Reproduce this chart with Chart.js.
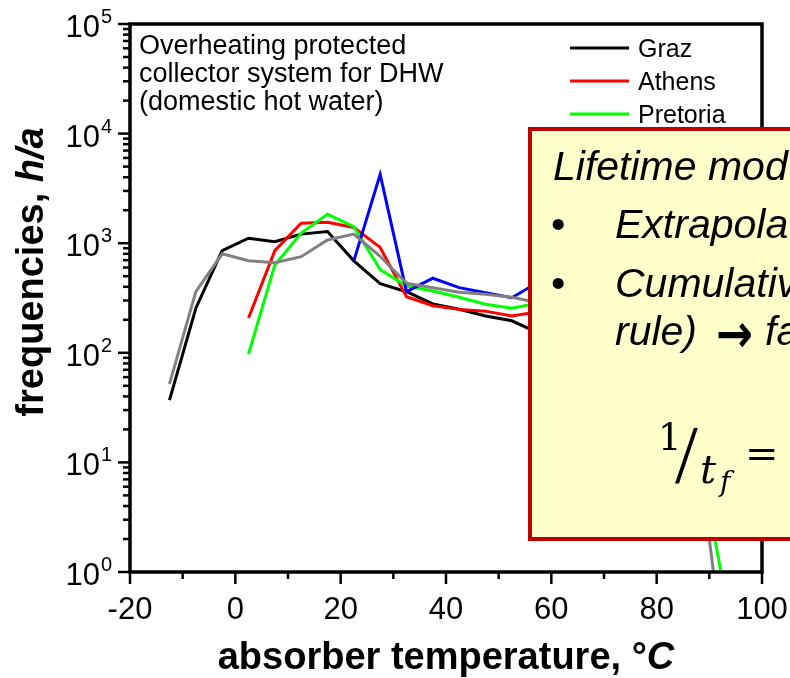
<!DOCTYPE html>
<html><head><meta charset="utf-8">
<script src="https://cdn.jsdelivr.net/npm/chart.js@4.4.1/dist/chart.umd.min.js"></script>
<style>
html,body{margin:0;padding:0;background:#fff;overflow:hidden;width:790px;height:678px;}
canvas{display:block;}
</style></head>
<body>
<canvas id="c" width="790" height="678"></canvas>
<script>
// ---- data ----
const TEMPS     = [-12.5, -7.5, -2.5, 2.5, 7.5, 12.5, 17.5, 22.5, 27.5, 32.5, 37.5, 42.5, 47.5, 52.5, 57.5, 62.5, 67.5, 72.5, 77.5, 82.5, 87.5, 92.5];
const GRAZ      = [37, 255, 855, 1110, 1030, 1210, 1280, 690, 428, 361, 279, 250, 217, 196, 152, 120, 80, 40, 12, 3, null, null];
const ATHENS    = [null, null, null, 208, 855, 1520, 1550, 1390, 915, 325, 269, 249, 240, 217, 237, 200, 150, 90, 40, 8, null, null];
const PRETORIA  = [null, null, null, 97.6, 633, 1236, 1835, 1416, 575, 407, 366, 321, 277, 255, 284, 260, 210, 160, 100, 45, 17, 0.84];
const SERIES_4  = [null, null, null, null, null, null, null, 690, 4250, 361, 479, 393, 353, 318, 440, 400, 300, 180, 60, 10, null, null];
const SERIES_5  = [52, 361, 800, 692, 664, 753, 1069, 1213, 760, 431, 393, 357, 342, 321, 286, 250, 200, 150, 100, 50, 17, 0.23];

const SERIES_NAMES  = ['Graz', 'Athens', 'Pretoria', 'Series 4', 'Series 5'];
const SERIES_COLORS = ['#000000', '#ff0000', '#00ff00', '#0000ff', '#808080'];
const LEGEND_SHOWN  = ['Graz', 'Athens', 'Pretoria'];

const X_TICKS     = [-20, 0, 20, 40, 60, 80, 100];
const X_MINOR     = [-10, 10, 30, 50, 70, 90];
const Y_EXPONENTS = [0, 1, 2, 3, 4, 5];

const X_TITLE = ['absorber temperature, °', 'C'];
const Y_TITLE = ['frequencies, ', 'h/a'];
const NOTE_LINES = ['Overheating protected', 'collector system for DHW', '(domestic hot water)'];
const BOX_TITLE = 'Lifetime mod';
const BOX_BULLETS = ['Extrapola', 'Cumulativ'];
const BOX_CONT = ['rule)', '\u2192', 'fa'];

const SANS = "'Liberation Sans', Arial, sans-serif";
const SERIF = "'DejaVu Serif', 'Liberation Serif', serif";
const TIMES = "'Liberation Serif', serif";

const ALL = [GRAZ, ATHENS, PRETORIA, SERIES_4, SERIES_5];

function seg(ctx, x1, y1, x2, y2) { ctx.beginPath(); ctx.moveTo(x1, y1); ctx.lineTo(x2, y2); ctx.stroke(); }

const deco = {
  id: 'deco',
  afterDraw(chart) {
    const ctx = chart.ctx, a = chart.chartArea, xs = chart.scales.x, ys = chart.scales.y;
    ctx.save();
    ctx.strokeStyle = '#000'; ctx.fillStyle = '#000'; ctx.lineCap = 'butt';
    // y ticks
    ctx.lineWidth = 2.5;
    for (let e = 0; e < 5; e++) {
      for (let k = 1; k < 10; k++) {
        const py = ys.getPixelForValue(k * Math.pow(10, e));
        const len = k === 1 ? 12 : 7;
        seg(ctx, a.left - len, py, a.left, py);
      }
    }
    seg(ctx, a.left - 12, ys.getPixelForValue(1e5), a.left, ys.getPixelForValue(1e5));
    // x ticks
    X_TICKS.forEach(v => { const px = xs.getPixelForValue(v); seg(ctx, px, a.bottom, px, a.bottom + 12); });
    X_MINOR.forEach(v => { const px = xs.getPixelForValue(v); seg(ctx, px, a.bottom, px, a.bottom + 7); });
    // frame
    ctx.lineWidth = 3.5;
    ctx.strokeRect(a.left, a.top, a.right - a.left, a.bottom - a.top);
    // x labels
    ctx.font = '31px ' + SANS; ctx.textAlign = 'center'; ctx.textBaseline = 'alphabetic';
    X_TICKS.forEach(v => ctx.fillText(String(v), xs.getPixelForValue(v), 619));
    // y labels
    Y_EXPONENTS.forEach(e => {
      const py = ys.getPixelForValue(Math.pow(10, e));
      ctx.font = '31px ' + SANS; ctx.textAlign = 'right';
      ctx.fillText('10', a.left - 30, py + 13);
      ctx.font = '20px ' + SANS; ctx.textAlign = 'left';
      ctx.fillText(String(e), a.left - 29, py - 1);
    });
    // x title
    ctx.textAlign = 'left';
    const fB = 'bold 38px ' + SANS, fBI = 'italic bold 38px ' + SANS;
    ctx.font = fB; const w1 = ctx.measureText(X_TITLE[0]).width;
    ctx.font = fBI; const w2 = ctx.measureText(X_TITLE[1]).width;
    let sx = (a.left + a.right) / 2 - (w1 + w2) / 2;
    ctx.font = fB; ctx.fillText(X_TITLE[0], sx, 669);
    ctx.font = fBI; ctx.fillText(X_TITLE[1], sx + w1, 669);
    // y title
    ctx.save();
    ctx.translate(43, 272);
    ctx.rotate(-Math.PI / 2);
    ctx.font = fB; const v1 = ctx.measureText(Y_TITLE[0]).width;
    ctx.font = fBI; const v2 = ctx.measureText(Y_TITLE[1]).width;
    sx = -(v1 + v2) / 2;
    ctx.font = fB; ctx.fillText(Y_TITLE[0], sx, 0);
    ctx.font = fBI; ctx.fillText(Y_TITLE[1], sx + v1, 0);
    ctx.restore();
    // note
    ctx.font = '27px ' + SANS; ctx.textAlign = 'left';
    NOTE_LINES.forEach((t, i) => ctx.fillText(t, 139, 54 + i * 28));
    // legend
    ctx.font = '25px ' + SANS;
    LEGEND_SHOWN.forEach((name, i) => {
      const idx = SERIES_NAMES.indexOf(name);
      const ly = 48 + i * 33;
      ctx.strokeStyle = SERIES_COLORS[idx]; ctx.lineWidth = 3;
      seg(ctx, 570, ly, 629, ly);
      ctx.fillStyle = '#000';
      ctx.fillText(name, 638, ly + 9);
    });
    // overlay box
    ctx.fillStyle = '#ffffcc';
    ctx.fillRect(530, 129, 300, 410);
    ctx.strokeStyle = '#c00000'; ctx.lineWidth = 4;
    ctx.strokeRect(530, 129, 300, 410);
    ctx.fillStyle = '#000';
    ctx.font = 'italic 41px ' + SANS;
    ctx.fillText(BOX_TITLE, 553, 180);
    [238, 297].forEach((by, i) => {
      ctx.font = '41px ' + SANS; ctx.fillText('\u2022', 551, by);
      ctx.font = 'italic 41px ' + SANS; ctx.fillText(BOX_BULLETS[i], 615, by);
    });
    ctx.font = 'italic 41px ' + SANS;
    ctx.fillText(BOX_CONT[0], 615, 345);
    // arrow, stretched to the reference width
    ctx.save();
    ctx.font = 'bold 40px "DejaVu Sans", sans-serif';
    const aw = ctx.measureText(BOX_CONT[1]).width;
    ctx.translate(716, 352);
    ctx.scale(37 / aw, 1.35);
    ctx.fillText(BOX_CONT[1], 0, 0);
    ctx.restore();
    ctx.font = 'italic 41px ' + SANS;
    ctx.fillText(BOX_CONT[2], 765, 345);
    // formula 1/t_f =
    ctx.font = '37px ' + SERIF; ctx.fillText('1', 658, 450);
    ctx.font = '82px ' + TIMES; ctx.fillText('/', 675, 482);
    ctx.font = 'italic 40px ' + SERIF; ctx.fillText('t', 700, 483);
    ctx.font = 'italic 28px ' + SERIF; ctx.fillText('f', 720, 491);
    ctx.font = '40px ' + SERIF; ctx.fillText('=', 745, 467);
    ctx.restore();
  }
};

new Chart(document.getElementById('c'), {
  type: 'line',
  data: {
    datasets: ALL.map((vals, i) => ({
      label: SERIES_NAMES[i],
      data: TEMPS.map((t, j) => ({ x: t, y: vals[j] })),
      borderColor: SERIES_COLORS[i],
      borderWidth: 3,
      pointRadius: 0,
      tension: 0,
      fill: false,
      spanGaps: false,
      order: 5 - i
    }))
  },
  options: {
    responsive: false,
    animation: false,
    devicePixelRatio: 1,
    layout: { padding: { top: 24, right: 28, left: 0, bottom: 0 } },
    plugins: { legend: { display: false }, tooltip: { enabled: false }, title: { display: false } },
    scales: {
      x: { type: 'linear', min: -20, max: 100, grid: { display: false }, border: { display: false },
           ticks: { display: false }, afterFit(s) { s.height = 106; } },
      y: { type: 'logarithmic', min: 1, max: 100000, grid: { display: false }, border: { display: false },
           ticks: { display: false }, afterFit(s) { s.width = 130; } }
    }
  },
  plugins: [deco]
});
</script>
</body></html>
